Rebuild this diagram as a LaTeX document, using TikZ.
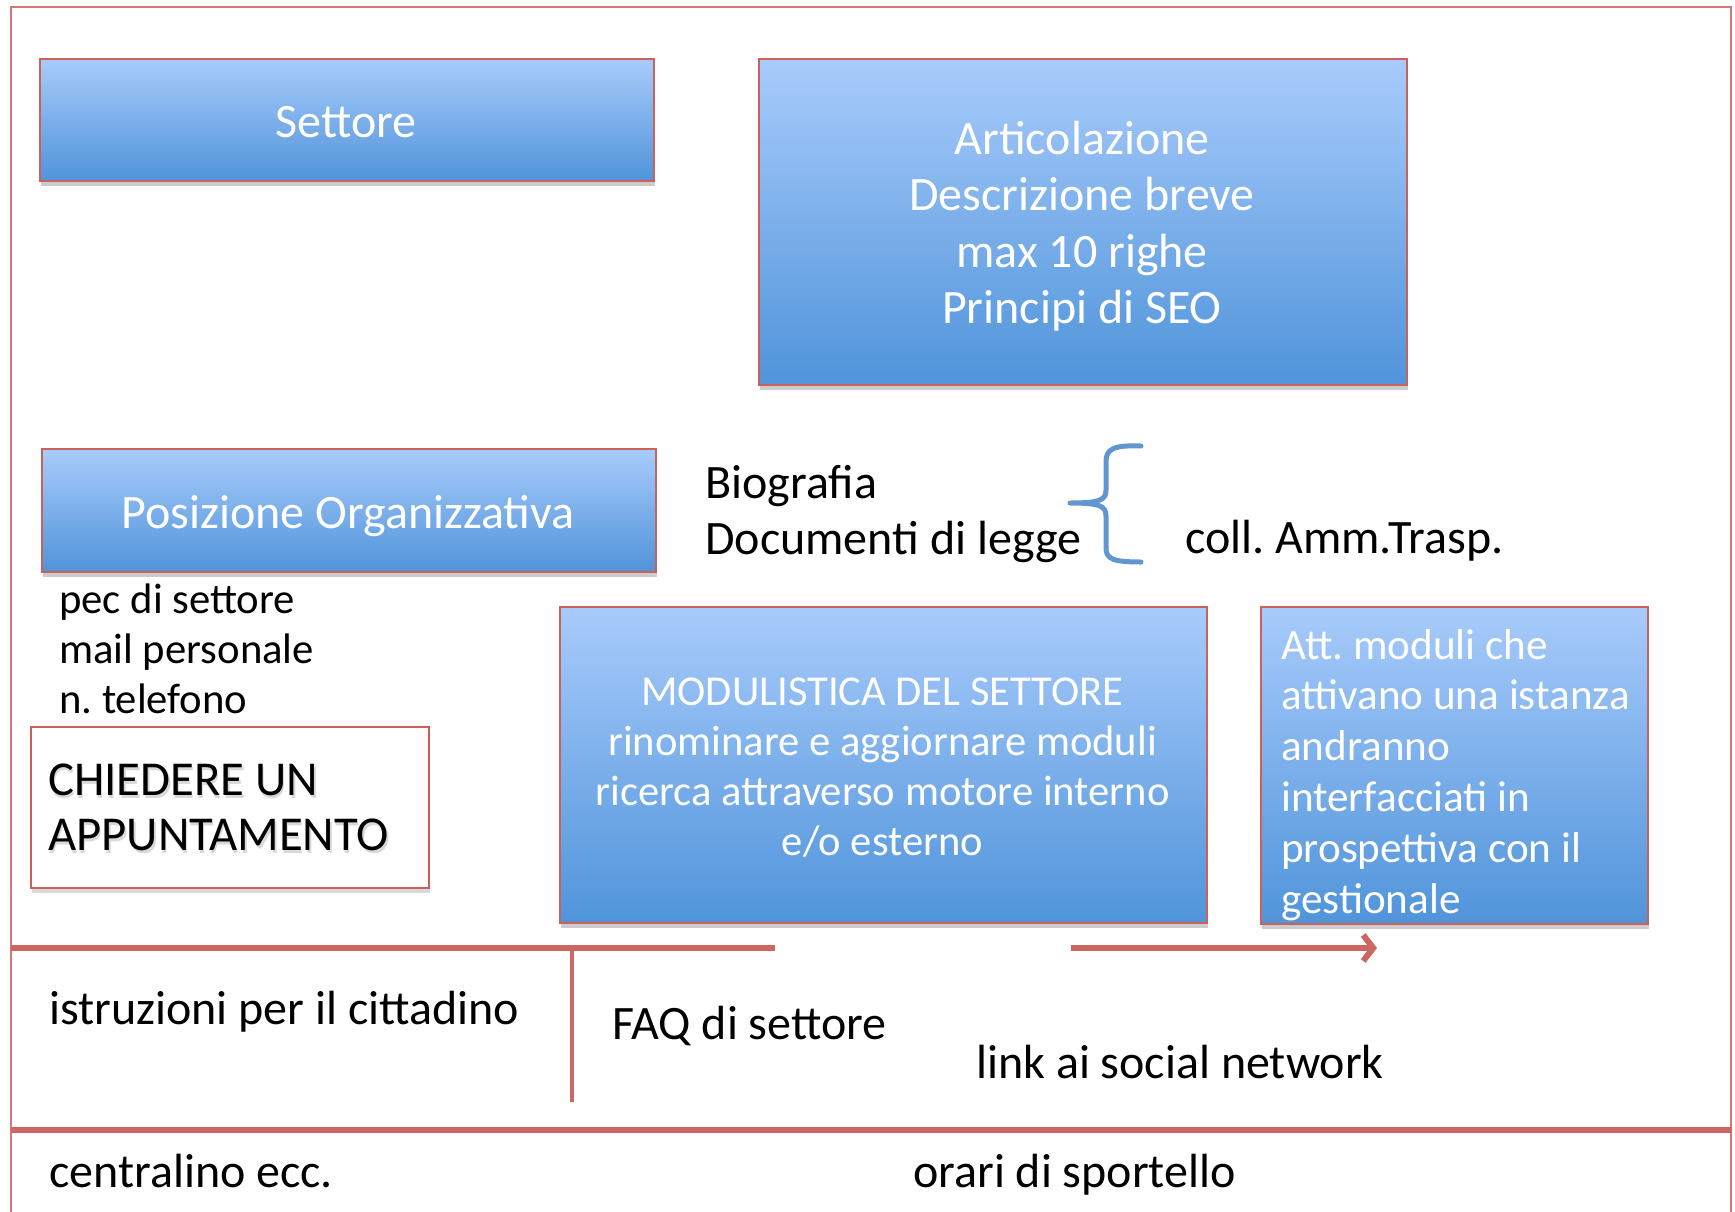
\documentclass[tikz,border=0pt]{standalone}
\usepackage{fontspec}
\setmainfont{Carlito}
\usetikzlibrary{arrows.meta,shadows}
\frenchspacing
\definecolor{boxred}{RGB}{204,96,90}
\definecolor{linered}{RGB}{204,102,96}
\definecolor{framered}{RGB}{214,120,115}
\definecolor{gtop}{RGB}{168,203,251}
\definecolor{gbot}{RGB}{80,148,218}
\definecolor{bracecol}{RGB}{98,150,206}
\newcommand{\fs}[2]{\fontsize{#1}{#2}\selectfont}
\newcommand{\shtext}[1]{\leavevmode\rlap{\hspace{1.5pt}\raisebox{-3pt}{\textcolor{black!15}{#1}}}#1}
\begin{document}
\begin{tikzpicture}[x=1pt,y=-1pt,
  bluebox/.style={draw=boxred, line width=2pt, top color=gtop, bottom color=gbot,
    drop shadow={shadow xshift=1pt, shadow yshift=-5pt, fill=black, opacity=0.2},
    anchor=north west, inner sep=0pt},
  whitebox/.style={draw=boxred, line width=2pt, fill=white,
    drop shadow={shadow xshift=1pt, shadow yshift=-5pt, fill=black, opacity=0.15},
    anchor=north west, inner sep=0pt},
  boxtxt/.style={anchor=base, inner sep=0pt, text=white},
  txt/.style={anchor=base west, inner sep=0pt, font=\fs{48}{56}},
  redline/.style={draw=linered, line width=6pt},
  thinred/.style={draw=linered, line width=3.5pt},
  brace/.style={draw=bracecol, line width=5pt, line cap=round, line join=round}]
\useasboundingbox (0,0) rectangle (1735,1211);
% frame
\coordinate (f1) at (11,1220);
\coordinate (f2) at (11,7);
\coordinate (f3) at (1731,7);
\coordinate (f4) at (1731,1220);
\draw[draw=framered, line width=2pt] (f1) -- (f2) -- (f3) -- (f4);
% lines
\coordinate (l1a) at (11,948);
\coordinate (l1b) at (775,948);
\coordinate (vt) at (572,948);
\coordinate (vb) at (572,1102);
\coordinate (ara) at (1071,948);
\coordinate (arb) at (1377,948);
\coordinate (l2a) at (11,1130);
\coordinate (l2b) at (1732,1130);
\draw[redline] (l1a) -- (l1b);
\draw[thinred] (vt) -- (vb);
\draw[redline, -{Straight Barb[length=10pt,width=26pt]}] (ara) -- (arb);
\draw[redline] (l2a) -- (l2b);
% boxes
\node[bluebox, minimum width=614pt, minimum height=122pt] (settore) at (39,58) {};
\node[boxtxt, font=\fs{48}{56}] (settoretxt) at (346,137) {Settore};
\node[bluebox, minimum width=648pt, minimum height=326pt] (artic) at (758,58) {};
\node[boxtxt, font=\fs{48}{56.5}] (artictxt) at (1082,154)
  {\parbox[t]{640pt}{\centering Articolazione\\Descrizione breve\\max 10 righe\\Principi di SEO}};
\node[bluebox, minimum width=614pt, minimum height=123pt] (po) at (41,448) {};
\node[boxtxt, font=\fs{48}{56}] (potxt) at (348,528) {Posizione Organizzativa};
\node[bluebox, minimum width=647pt, minimum height=316pt] (modul) at (559,606) {};
\node[boxtxt, font=\fs{42.6}{50.3}] (modultxt) at (882.5,705)
  {\parbox[t]{640pt}{\centering MODULISTICA DEL SETTORE\\rinominare e aggiornare moduli\\ricerca attraverso motore interno\\e/o esterno}};
\node[bluebox, minimum width=387pt, minimum height=317pt] (att) at (1260,606) {};
\node[boxtxt, anchor=base west, font=\fs{43.2}{50.8}] (atttext) at (1281,659)
  {\parbox[t]{380pt}{\raggedright Att. moduli che\\attivano una istanza\\andranno\\interfacciati in\\prospettiva con il\\gestionale}};
\node[whitebox, minimum width=398pt, minimum height=161pt] (chiedi) at (30,726) {};
\node[txt, font=\fs{48.7}{55}] (chieditext) at (48,795)
  {\parbox[t]{370pt}{\shtext{CHIEDERE UN}\\\shtext{APPUNTAMENTO}}};
% texts
\node[txt, font=\fs{42.7}{50}] (contatti) at (59,613) {\parbox[t]{400pt}{pec di settore\\mail personale\\n. telefono}};
\node[txt] (bio) at (705,498) {\parbox[t]{400pt}{Biografia\\Documenti di legge}};
\node[txt] (coll) at (1185,553) {coll. Amm.Trasp.};
\node[txt] (istr) at (49,1024) {istruzioni per il cittadino};
\node[txt] (faq) at (612,1039) {FAQ di settore};
\node[txt] (link) at (976,1078) {link ai social network};
\node[txt] (centr) at (49,1187) {centralino ecc.};
\node[txt] (orari) at (913,1187) {orari di sportello};
% brace
\coordinate (b1) at (1141,446);
\coordinate (btip) at (1070,503);
\coordinate (b2) at (1141,562);
\draw[brace] (b1) .. controls (1113,445) and (1106,449) .. (1106,462) -- (1106,490)
  .. controls (1106,500) and (1100,503) .. (btip)
  .. controls (1100,503) and (1106,506) .. (1106,516) -- (1106,548)
  .. controls (1106,559) and (1113,562) .. (b2);
\end{tikzpicture}
\end{document}
